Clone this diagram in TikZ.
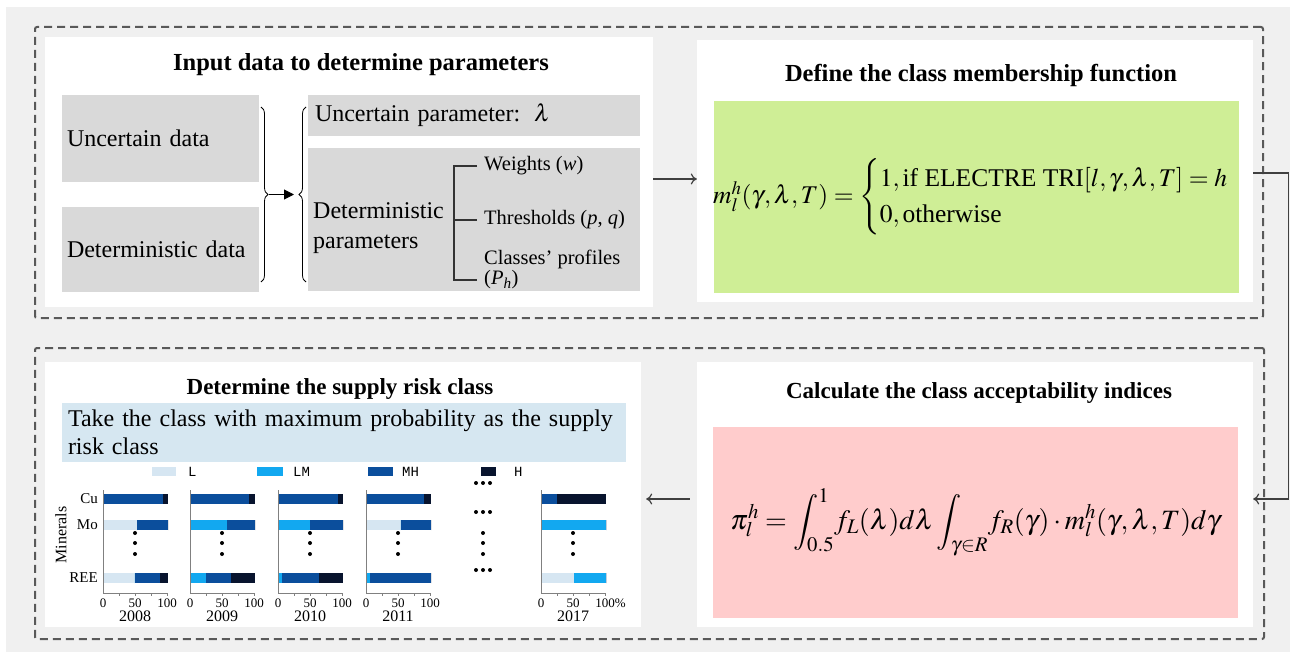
\documentclass[tikz,border=0pt]{standalone}
\usepackage{amsmath}
\usepackage{mathptmx}
\usepackage[no-math]{fontspec}
\setmainfont{Liberation Serif}
\newfontfamily\legendfont{Liberation Mono}
\usepackage{tikz}
\usetikzlibrary{positioning,arrows.meta,decorations.pathreplacing}
\usepackage{color}
\definecolor{bggray}{RGB}{240,240,240}
\definecolor{boxgray}{RGB}{217,217,217}
\definecolor{dashgray}{RGB}{89,89,89}
\definecolor{arrowgray}{RGB}{64,64,64}
\definecolor{mgreen}{RGB}{207,238,150}
\definecolor{mpink}{RGB}{255,204,204}
\definecolor{mblue}{RGB}{214,231,241}
\definecolor{riskL}{RGB}{214,230,242}
\definecolor{riskLM}{RGB}{18,168,240}
\definecolor{riskMH}{RGB}{11,78,156}
\definecolor{riskH}{RGB}{8,20,46}
\newcommand*{\fs}[2]{\fontsize{#1}{#2}\selectfont}
\newcommand*{\riskbar}[6]{%
	\fill[riskL] (#1,#2-5) rectangle ++(0.64*#3,10);
	\fill[riskLM] (#1+0.64*#3,#2-5) rectangle ++(0.64*#4,10);
	\fill[riskMH] (#1+0.64*#3+0.64*#4,#2-5) rectangle ++(0.64*#5,10);
	\fill[riskH] (#1+0.64*#3+0.64*#4+0.64*#5,#2-5) rectangle ++(0.64*#6,10);
}
\newcommand*{\riskaxis}[4]{%
	\draw[axisline] (#1,490) -- (#1,593) -- (#1+64,593);
	\draw[axisline] (#1+16,593) -- ++(0,3) (#1+32,593) -- ++(0,3) (#1+48,593) -- ++(0,3) (#1+64,593) -- ++(0,3);
	\node[ticklabel] (#2-0) at (#1,603) {0};
	\node[ticklabel] (#2-50) at (#1+32,603) {50};
	\node[ticklabel] (#2-100) at (#1+64,603) {#4};
	\node[yearlabel] (#2) at (#1+32,616) {#3};
	\fill (#1+32,533) circle (2pt) (#1+32,543) circle (2pt) (#1+32,554) circle (2pt);
}

\begin{document}
\begin{tikzpicture}[x=1pt,y=-1pt]
	\tikzstyle{dashframe}=[rectangle, draw=dashgray, line width=2pt, dash pattern=on 8pt off 5pt, rounded corners=2pt, inner sep=0pt]
	\tikzstyle{panel}=[rectangle, fill=white, inner sep=0pt]
	\tikzstyle{graybox}=[rectangle, fill=boxgray, inner sep=0pt]
	\tikzstyle{heading}=[font=\fs{23}{27}\bfseries, inner sep=0pt]
	\tikzstyle{body}=[font=\fs{24}{30}, align=left, inner sep=0pt]
	\tikzstyle{smalltext}=[font=\fs{20.5}{22}, inner sep=0pt, anchor=west]
	\tikzstyle{flow}=[-{To[length=6pt,width=11pt]}, line width=1.2pt, arrowgray]
	\tikzstyle{curly}=[decorate, decoration={brace, amplitude=7pt}, line width=0.8pt]
	\tikzstyle{treeline}=[line width=1.2pt, black!80]
	\tikzstyle{axisline}=[line width=1pt, gray]
	\tikzstyle{ticklabel}=[font=\fs{13}{15}, inner sep=0pt]
	\tikzstyle{yearlabel}=[font=\fs{16}{18}, inner sep=0pt]
	\tikzstyle{minlabel}=[font=\fs{15}{17}, inner sep=0pt, anchor=east]
	\tikzstyle{legendlabel}=[font=\legendfont\fs{14}{16}, inner sep=0pt, anchor=west]

	% background
	\useasboundingbox (0,0) rectangle (1290,652);
	\fill[white] (0,0) rectangle (1290,652);
	\fill[bggray] (6,7) rectangle (1290,652);
	\node (TopFrame) [dashframe, minimum width=1228pt, minimum height=291pt] at (649,172.5) {};
	\node (BottomFrame) [dashframe, minimum width=1229pt, minimum height=291pt] at (649.5,493.5) {};

	% panels
	\node (Input) [panel, minimum width=608pt, minimum height=270pt] at (349,172) {};
	\node (Membership) [panel, minimum width=556pt, minimum height=262pt] at (975,171) {};
	\node (Acceptability) [panel, minimum width=556pt, minimum height=265pt] at (975,494.5) {};
	\node (Supply) [panel, minimum width=596pt, minimum height=265pt] at (343,494.5) {};

	% input data
	\node (InputTitle) [heading, font=\fs{24.5}{28}\bfseries] at (361,65) {Input data to determine parameters};
	\node (UncData) [graybox, body, minimum width=197pt, minimum height=87pt, text width=187pt] at (160.5,138.5) {Uncertain data};
	\node (DetData) [graybox, body, minimum width=197pt, minimum height=85pt, text width=187pt] at (160.5,249.5) {Deterministic data};
	\node (UncParam) [graybox, body, minimum width=332pt, minimum height=41pt, text width=318pt] at (474,115.5) {Uncertain parameter:\hspace{14pt}$\lambda$};
	\node (DetParam) [graybox, minimum width=332pt, minimum height=143pt] at (474,219.5) {};
	\node (DetText) [body, anchor=west] at (313,228) {Deterministic\\parameters};
	\node (Weights) [smalltext] at (484,166) {Weights (\textit{w})};
	\node (Thresholds) [smalltext] at (484,220) {Thresholds (\textit{p}, \textit{q})};
	\node (Profiles) [smalltext] at (484,259) {Classes’ profiles};
	\node (ProfSym) [smalltext] at (484,280) {(\textit{P}\textsubscript{\textit{h}})};
	\coordinate (Fork) at (454,220);
	\draw[treeline] ([xshift=-7pt]Weights.west) -- (Fork |- Weights.west) -- (Fork |- ProfSym.west) -- ([xshift=-7pt]ProfSym.west);
	\draw[treeline] (Fork) -- ([xshift=-7pt]Thresholds.west);
	\coordinate (DataTop) at (261,107);
	\coordinate (DataBot) at (261,282);
	\coordinate (ParamTop) at (306,107);
	\coordinate (ParamBot) at (306,282);
	\coordinate (DataTip) at (269,194.5);
	\coordinate (ParamTip) at (294,194.5);
	\draw[curly] (DataTop) -- (DataBot);
	\draw[curly] (ParamBot) -- (ParamTop);
	\draw[-{Triangle[length=10pt,width=10pt]}, line width=1pt] (DataTip) -- (ParamTip);

	% membership function
	\node (MembershipTitle) [heading, font=\fs{24.5}{28}\bfseries] at (981,75) {Define the class membership function};
	\node (MembershipBox) [panel, fill=mgreen, minimum width=525pt, minimum height=192pt] at (976.5,197) {};
	\node (MembershipFn) [font=\fs{25.5}{30}] at ([xshift=7pt]MembershipBox.center)
	{$m_l^h(\gamma,\lambda,T)=\begin{cases}1,\text{if ELECTRE TRI}[l,\gamma,\lambda,T]=h\\ 0,\text{otherwise}\end{cases}$};

	% acceptability indices
	\node (AcceptTitle) [heading] at (979,393) {Calculate the class acceptability indices};
	\node (AcceptBox) [panel, fill=mpink, minimum width=525pt, minimum height=191pt] at (975.5,522.5) {};
	\node (AcceptFn) [font=\fs{28}{32}] at (AcceptBox.center)
	{$\displaystyle \pi_l^h=\int_{0.5}^{1}\!f_L(\lambda)d\lambda\int_{\gamma\in R}\!f_R(\gamma)\cdot m_l^h(\gamma,\lambda,T)d\gamma$};

	% supply risk class
	\node (SupplyTitle) [heading] at (340,389) {Determine the supply risk class};
	\node (TakeBox) [panel, fill=mblue, minimum width=564pt, minimum height=59pt, text width=552pt, align=left, font=\fs{24}{28}] at (344,432.5)
	{Take the class with maximum probability as the supply\\risk class};
	\fill[riskL] (152,467) rectangle (176,476);
	\node (LegL) [legendlabel] at (188,472) {L};
	\fill[riskLM] (257,467) rectangle (283,476);
	\node (LegLM) [legendlabel] at (293,472) {LM};
	\fill[riskMH] (368,467) rectangle (393,476);
	\node (LegMH) [legendlabel] at (402,472) {MH};
	\fill[riskH] (481,467) rectangle (496,476);
	\node (LegH) [legendlabel] at (514,472) {H};
	\node (Minerals) [font=\fs{16}{18}, rotate=90, inner sep=0pt] at (61,535) {Minerals};
	\node (Cu) [minlabel] at (98,499) {Cu};
	\node (Mo) [minlabel] at (98,525) {Mo};
	\node (REE) [minlabel] at (98,578) {REE};

	\riskaxis{103}{Y2008}{2008}{100}
	\riskbar{104}{499}{0}{0}{92}{8}
	\riskbar{104}{525}{52}{0}{48}{0}
	\riskbar{104}{578}{48}{0}{39}{13}
	\riskaxis{190}{Y2009}{2009}{100}
	\riskbar{191}{499}{0}{0}{91}{9}
	\riskbar{191}{525}{0}{56}{44}{0}
	\riskbar{191}{578}{0}{24}{38}{38}
	\riskaxis{278}{Y2010}{2010}{100}
	\riskbar{279}{499}{0}{0}{92}{8}
	\riskbar{279}{525}{0}{49}{51}{0}
	\riskbar{279}{578}{0}{5}{58}{37}
	\riskaxis{366}{Y2011}{2011}{100}
	\riskbar{367}{499}{0}{0}{89}{11}
	\riskbar{367}{525}{53}{0}{47}{0}
	\riskbar{367}{578}{0}{4}{96}{0}
	\riskaxis{541}{Y2017}{2017}{100\rlap{\%}}
	\riskbar{542}{499}{0}{0}{23}{77}
	\riskbar{542}{525}{0}{100}{0}{0}
	\riskbar{542}{578}{50}{50}{0}{0}

	\fill (476,483) circle (2pt) (483,483) circle (2pt) (490,483) circle (2pt);
	\fill (476,512) circle (2pt) (483,512) circle (2pt) (490,512) circle (2pt);
	\fill (483,533) circle (2pt) (483,543) circle (2pt) (483,554) circle (2pt);
	\fill (476,570) circle (2pt) (483,570) circle (2pt) (490,570) circle (2pt);

	% connectors
	\draw[flow] ([yshift=-7pt]Input.east) -- ([yshift=-7pt]Input.east -| Membership.west);
	\draw[flow] ([yshift=-2pt]Membership.east) -- ++(35,0) |- ([yshift=-4.5pt]Acceptability.east);
	\draw[flow, shorten <=7pt, shorten >=5pt] ([yshift=-4.5pt]Acceptability.west) -- ([yshift=-4.5pt]Acceptability.west -| Supply.east);
\end{tikzpicture}
\end{document}
